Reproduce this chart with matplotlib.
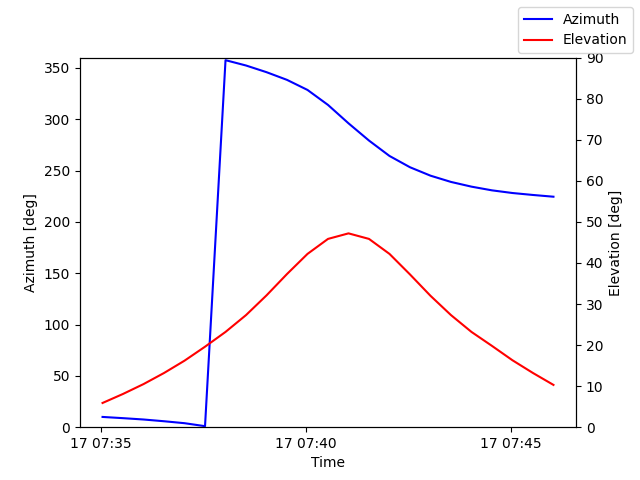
import datetime
import matplotlib
matplotlib.use('Agg')
import matplotlib.pyplot as plt
import matplotlib.dates as mdates

start = datetime.datetime(2024, 1, 17, 7, 35, 2)
times = [start + datetime.timedelta(seconds=30 * i) for i in range(23)]

azimuth = [10.0, 8.8, 7.5, 5.8, 3.9, 1.0, 357.5, 352.3, 345.8, 338.3, 328.5, 313.9,
           296.0, 279.2, 264.2, 253.2, 245.0, 238.9, 234.3, 230.7, 228.1, 226.2, 224.5]
elevation = [5.9, 8.1, 10.5, 13.2, 16.2, 19.6, 23.2, 27.3, 32.1, 37.3, 42.2, 45.85,
             47.2, 45.85, 42.2, 37.2, 32.0, 27.3, 23.2, 19.8, 16.3, 13.2, 10.3]

fig, ax1 = plt.subplots(figsize=(6.4, 4.8), dpi=100)
ax1.plot(times, azimuth, color='blue', label='Azimuth')
ax1.set_ylim(0, 360)
ax1.set_xlabel('Time')
ax1.set_ylabel('Azimuth [deg]')

ax2 = ax1.twinx()
ax2.plot(times, elevation, color='red', label='Elevation')
ax2.set_ylim(0, 90)
ax2.set_ylabel('Elevation [deg]')

ax1.xaxis.set_major_formatter(mdates.DateFormatter('%d %H:%M'))
fig.legend(loc='upper right')
fig.savefig('out.png')
